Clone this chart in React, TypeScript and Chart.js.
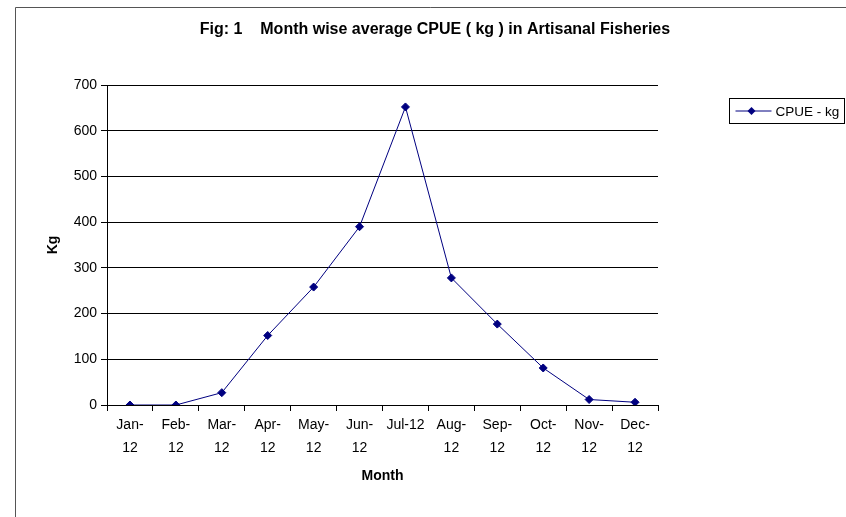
import React, { useEffect, useRef } from "react";
import { Chart, registerables } from "chart.js";

Chart.register(...registerables);

const months: (string | string[])[] = [
  ["Jan-", "12"], ["Feb-", "12"], ["Mar-", "12"], ["Apr-", "12"], ["May-", "12"], ["Jun-", "12"],
  "Jul-12", ["Aug-", "12"], ["Sep-", "12"], ["Oct-", "12"], ["Nov-", "12"], ["Dec-", "12"],
];
const cpueKg: number[] = [0, 0, 27, 152, 258, 390, 652, 278, 177, 81, 12, 6];
const seriesLabel = "CPUE - kg";
const chartTitle = "Fig: 1    Month wise average CPUE ( kg ) in Artisanal Fisheries";
const xTitle = "Month";
const yTitle = "Kg";

const FONT = "'Liberation Sans', Arial, sans-serif";
const NAVY = "#000080";

const framePlugin = {
  id: "frame",
  beforeDraw(chart: any) {
    const { ctx, width, height } = chart;
    ctx.save();
    ctx.fillStyle = "#ffffff";
    ctx.fillRect(0, 0, width, height);
    ctx.strokeStyle = "#555555";
    ctx.lineWidth = 1;
    ctx.beginPath();
    ctx.moveTo(15.5, height);
    ctx.lineTo(15.5, 7.5);
    ctx.lineTo(width, 7.5);
    ctx.stroke();
    // title
    ctx.fillStyle = "#000000";
    ctx.font = `bold 16px ${FONT}`;
    ctx.textAlign = "center";
    ctx.textBaseline = "middle";
    ctx.fillText(chartTitle, 435, 30);
    ctx.restore();
  },
};

const legendPlugin = {
  id: "boxLegend",
  afterDraw(chart: any) {
    const { ctx } = chart;
    const ds = chart.data.datasets[0];
    const x0 = 729.5, y0 = 98.5, w = 115, h = 25;
    ctx.save();
    ctx.strokeStyle = "#000000";
    ctx.lineWidth = 1;
    ctx.strokeRect(x0, y0, w, h);
    const cy = y0 + h / 2;
    ctx.strokeStyle = ds.borderColor;
    ctx.beginPath();
    ctx.moveTo(x0 + 6, cy);
    ctx.lineTo(x0 + 42, cy);
    ctx.stroke();
    ctx.fillStyle = ds.pointBackgroundColor;
    const cx = x0 + 22, r = 4;
    ctx.beginPath();
    ctx.moveTo(cx, cy - r);
    ctx.lineTo(cx + r, cy);
    ctx.lineTo(cx, cy + r);
    ctx.lineTo(cx - r, cy);
    ctx.closePath();
    ctx.fill();
    ctx.fillStyle = "#000000";
    ctx.font = `13.5px ${FONT}`;
    ctx.textBaseline = "middle";
    ctx.textAlign = "left";
    ctx.fillText(ds.label, x0 + 46, cy + 1);
    ctx.restore();
  },
};

export default function App() {
  const ref = useRef<HTMLCanvasElement | null>(null);
  useEffect(() => {
    if (!ref.current) return;
    const chart = new Chart(ref.current, {
      type: "line",
      data: {
        labels: months,
        datasets: [
          {
            label: seriesLabel,
            data: cpueKg,
            borderColor: NAVY,
            backgroundColor: NAVY,
            pointBackgroundColor: NAVY,
            pointBorderColor: NAVY,
            borderWidth: 1,
            pointStyle: "rectRot",
            pointRadius: 4,
            tension: 0,
          },
        ],
      },
      options: {
        responsive: false,
        animation: false,
        layout: { padding: { left: 41, right: 188, top: 85, bottom: 22 } },
        plugins: {
          legend: { display: false },
          tooltip: { enabled: false },
          title: { display: false },
        },
        scales: {
          x: {
            offset: true,
            grid: {
              display: true,
              offset: true,
              drawOnChartArea: false,
              drawTicks: true,
              tickLength: 6,
              color: "#000000",
            },
            border: { display: true, color: "#000000" },
            ticks: {
              color: "#000000",
              font: { family: FONT, size: 14, lineHeight: 1.64 },
              padding: 3,
              maxRotation: 0,
              autoSkip: false,
            },
            title: {
              display: true,
              text: xTitle,
              color: "#000000",
              font: { family: FONT, size: 14, weight: "bold" },
              padding: { top: 4, bottom: 10 },
            },
            afterFit: (s: any) => {
              s.height = 90;
            },
          },
          y: {
            min: 0,
            max: 700,
            ticks: {
              stepSize: 100,
              color: "#000000",
              font: { family: FONT, size: 14 },
              padding: 4,
            },
            grid: { color: "#000000", tickLength: 6, drawTicks: true },
            border: { display: true, color: "#000000" },
            title: {
              display: true,
              text: yTitle,
              color: "#000000",
              font: { family: FONT, size: 14, weight: "bold" },
              padding: { top: 4, bottom: 4 },
            },
            afterFit: (s: any) => {
              s.width = 66;
            },
          },
        },
      },
      plugins: [framePlugin, legendPlugin],
    });
    return () => chart.destroy();
  }, []);
  return (
    <div style={{ position: "absolute", left: 0, top: 0, width: 846, height: 517 }}>
      <canvas ref={ref} width={846} height={517} />
    </div>
  );
}
